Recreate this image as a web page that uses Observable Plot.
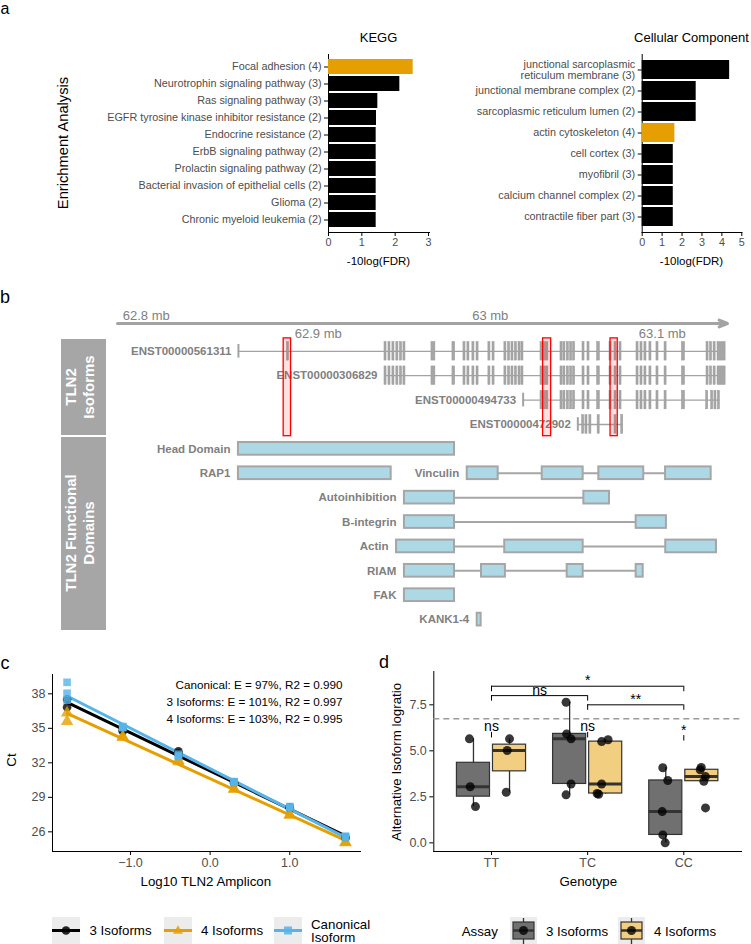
<!DOCTYPE html>
<html>
<head>
<meta charset="utf-8">
<script src="https://cdn.jsdelivr.net/npm/d3@7"></script>
<script src="https://cdn.jsdelivr.net/npm/@observablehq/plot@0.6"></script>
<style>
html,body{margin:0;padding:0;background:#fff;}
#fig{position:relative;width:751px;height:944px;overflow:hidden;background:#fff;font-family:"Liberation Sans",Arial,Helvetica,sans-serif;}
.abs{position:absolute;}
.lbl{position:absolute;white-space:pre;line-height:1;color:#000;}
#fig svg g[aria-label$="tick label"]{fill:#4d4d4d;}
</style>
</head>
<body>
<div id="fig"></div>
<script>
// ================= DATA =================
// Panel a – enrichment
const keggTerms = ["Focal adhesion (4)", "Neurotrophin signaling pathway (3)", "Ras signaling pathway (3)",
  "EGFR tyrosine kinase inhibitor resistance (2)", "Endocrine resistance (2)", "ErbB signaling pathway (2)",
  "Prolactin signaling pathway (2)", "Bacterial invasion of epithelial cells (2)", "Glioma (2)", "Chronic myeloid leukemia (2)"];
const keggFDR = [2.54, 2.14, 1.48, 1.44, 1.43, 1.43, 1.43, 1.43, 1.43, 1.43];
const ccTerms = ["junctional sarcoplasmic\nreticulum membrane (3)", "junctional membrane complex (2)",
  "sarcoplasmic reticulum lumen (2)", "actin cytoskeleton (4)", "cell cortex (3)", "myofibril (3)",
  "calcium channel complex (2)", "contractile fiber part (3)"];
const ccFDR = [4.39, 2.71, 2.71, 1.64, 1.56, 1.56, 1.56, 1.56];
const highlightTerms = ["Focal adhesion (4)", "actin cytoskeleton (4)"];
const keggTicks = [0, 1, 2, 3];
const ccTicks = [0, 1, 2, 3, 4, 5];

// Panel b – TLN2 locus (positions in kb on chr15)
const genomeTicks = [62800, 62900, 63000, 63100];
const genomeTickLabels = ["62.8 mb", "62.9 mb", "63 mb", "63.1 mb"];
const genomeAxisRange = [62783.3, 63137.9];
const transcriptNames = ["ENST00000561311", "ENST00000306829", "ENST00000494733", "ENST00000472902"];
const transcriptStart = [62853.6, 62938.5, 63019.1, 63050.9];
const transcriptEnd = [63136.8, 63136.8, 63133.5, 63077.3];
const exons561311 = [[62881.8,62883.0],
  [62938.5,62939.7],[62940.8,62942.0],[62943.1,62944.3],[62945.4,62946.6],[62947.5,62948.7],[62949.5,62950.7],
  [62965.8,62968.1],[62978.0,62979.6],
  [62984.4,62985.6],[62986.7,62987.9],[62989.6,62990.8],[62992.0,62993.2],
  [62998.9,63000.1],[63001.3,63002.5],
  [63008.2,63009.4],[63010.3,63011.5],[63012.3,63013.5],[63014.3,63015.5],[63016.4,63017.6],[63018.1,63019.3],
  [63029.2,63033.8],
  [63040.8,63042.0],[63042.5,63043.7],[63044.5,63045.7],[63046.4,63047.6],[63048.1,63049.3],
  [63053.6,63054.8],[63056.5,63057.7],[63062.1,63063.7],[63069.3,63070.5],[63072.2,63073.4],[63075.1,63076.3],
  [63085.0,63086.2],[63087.3,63088.5],[63089.6,63090.8],[63092.5,63093.7],[63096.6,63097.8],[63101.3,63102.5],
  [63111.4,63113.2],[63125.7,63126.9],[63127.7,63128.9],[63129.8,63131.0],[63132.1,63136.8]];
const exons306829 = [
  [62938.5,62939.7],[62940.8,62942.0],[62943.1,62944.3],[62945.4,62946.6],[62947.5,62948.7],[62949.5,62950.7],
  [62965.8,62968.1],[62978.0,62979.6],
  [62984.4,62985.6],[62986.7,62987.9],[62989.6,62990.8],[62992.0,62993.2],
  [62998.9,63000.1],[63001.3,63002.5],
  [63008.2,63009.4],[63010.3,63011.5],[63012.3,63013.5],[63014.3,63015.5],[63016.4,63017.6],[63018.1,63019.3],
  [63029.2,63033.8],
  [63040.8,63042.0],[63042.5,63043.7],[63044.5,63045.7],[63046.4,63047.6],[63048.1,63049.3],
  [63053.6,63054.8],[63056.5,63057.7],[63062.1,63063.7],[63069.3,63070.5],[63072.2,63073.4],[63075.1,63076.3],
  [63085.0,63086.2],[63087.3,63088.5],[63089.6,63090.8],[63092.5,63093.7],[63096.6,63097.8],[63101.3,63102.5],
  [63111.4,63113.2],[63125.7,63126.9],[63127.7,63128.9],[63129.8,63131.0],[63132.1,63136.8]];
const exons494733 = [[63029.2,63033.8],
  [63040.8,63042.0],[63042.5,63043.7],[63044.5,63045.7],[63046.4,63047.6],[63048.1,63049.3],
  [63053.6,63054.8],[63056.5,63057.7],[63062.1,63063.7],[63069.3,63070.5],[63072.2,63073.4],[63075.1,63076.3],
  [63085.0,63086.2],[63087.3,63088.5],[63089.6,63090.8],[63092.5,63093.7],[63096.6,63097.8],[63101.3,63102.5],
  [63111.4,63113.2],[63125.5,63126.7],[63128.4,63129.6],[63130.3,63131.5],[63132.3,63133.5]];
const exons472902 = [[63053.4,63054.6],[63055.3,63056.5],[63057.6,63058.8],[63062.4,63063.6],[63072.2,63073.4],[63076.1,63077.3]];
const highlightRegions = [[62879.9, 62884.2], [63030.7, 63035.4], [63069.9, 63074.1]];
const domainNames = ["Head Domain", "RAP1", "Vinculin", "Autoinhibition", "B-integrin", "Actin", "RIAM", "FAK", "KANK1-4"];
const domainSegments = [
  [[62853.6, 62979.2]],
  [[62853.6, 62942.4]],
  [[62986.6, 63004.6], [63030.2, 63054.0], [63063.1, 63089.2], [63101.9, 63128.4]],
  [[62950.1, 62979.2], [63054.4, 63069.3]],
  [[62950.1, 62979.2], [63084.8, 63102.4]],
  [[62945.5, 62979.2], [63008.4, 63054.0], [63102.0, 63131.5]],
  [[62950.1, 62979.2], [62994.9, 63008.8], [63044.7, 63054.0], [63084.8, 63088.9]],
  [[62950.1, 62979.2]],
  [[62992.4, 62994.7]]];
const domainStacking = [["Head Domain"], ["RAP1", "Vinculin"], ["Autoinhibition"], ["B-integrin"], ["Actin"], ["RIAM"], ["FAK"], ["KANK1-4"]];

// Panel c – qPCR standard curves
const log10Amplicon = [-1.796, -1.097, -0.398, 0.301, 1.0, 1.699];
const ct3Isoforms = [[37.5, 36.83], [34.87, 34.75], [33.0, 32.8], [30.29, 30.22], [28.14, 28.04], [25.53, 25.47]];
const ct4Isoforms = [[36.35, 35.6], [34.3, 34.2], [32.2, 32.1], [29.74, 29.7], [27.5, 27.45], [25.1, 25.05]];
const ctCanonical = [[39.0, 38.05, 37.45], [35.16, 35.05, 35.1], [32.75, 32.55, 32.6], [30.37, 30.3, 30.33], [28.2, 28.1, 28.15], [25.6, 25.55, 25.6]];
const ctTicks = [26, 29, 32, 35, 38];
const ampTicks = [-1, 0, 1];
const fitNames = ["Canonical", "3 Isoforms", "4 Isoforms"];
const fitEfficiency = [97, 101, 103];
const fitR2 = [0.990, 0.997, 0.995];

// Panel d – alternative isoform log ratio by genotype
const genotypes = ["TT", "TC", "CC"];
const assays = ["3 Isoforms", "4 Isoforms"];
const ttIso3 = [5.65, 3.05, 1.97];
const ttIso4 = [5.65, 5.02, 2.75];
const tcIso3 = [7.64, 5.92, 5.65, 3.2, 2.61];
const tcIso4 = [5.5, 5.6, 3.2, 2.68, 2.64];
const ccIso3 = [4.08, 3.39, 1.70, 0.43, 0.0];
const ccIso4 = [4.1, 3.97, 3.6, 3.35, 1.9];
const ratioTicks = [0, 2.5, 5, 7.5];
const thresholdRatio = 6.74;
const betweenTests = [
  {g1: "TT", g2: "TC", y: 8.0, label: "ns"},
  {g1: "TT", g2: "CC", y: 8.51, label: "*"},
  {g1: "TC", g2: "CC", y: 7.5, label: "**"}];
const withinTests = [
  {g: "TT", y: 6.0, label: "ns"},
  {g: "TC", y: 6.0, label: "ns"},
  {g: "CC", y: 5.83, label: "*"}];

// ================= RENDER =================
const FONT = '"Liberation Sans", Arial, Helvetica, sans-serif';
const ORANGE = "#E69F00", SKY = "#56B4E9";
const fig = document.getElementById("fig");

function place(el, left, top) {
  const d = document.createElement("div");
  d.className = "abs";
  d.style.left = left + "px"; d.style.top = top + "px";
  d.appendChild(el); fig.appendChild(d); return d;
}
function label(text, x, y, o = {}) {
  const d = document.createElement("div");
  d.className = "lbl";
  d.textContent = text;
  d.style.left = x + "px"; d.style.top = y + "px";
  d.style.fontSize = (o.size || 13.3) + "px";
  if (o.weight) d.style.fontWeight = o.weight;
  if (o.color) d.style.color = o.color;
  if (o.lh) d.style.lineHeight = o.lh;
  if (o.align) d.style.textAlign = o.align;
  const tx = o.anchor === "start" ? "0" : o.anchor === "end" ? "-100%" : "-50%";
  d.style.transform = `translate(${tx},-50%)` + (o.rotate ? ` rotate(${o.rotate}deg)` : "");
  fig.appendChild(d);
  return d;
}
function box(x, y, w, h, bg) {
  const d = document.createElement("div");
  d.className = "abs";
  Object.assign(d.style, {left: x + "px", top: y + "px", width: w + "px", height: h + "px", background: bg});
  fig.appendChild(d); return d;
}
const baseStyle = (size) => ({fontFamily: FONT, fontSize: size + "px", color: "black", background: "transparent", overflow: "visible"});

// ---------- Panel a ----------
function enrichPlot(terms, vals, ticks, xmax, width, mLeft, mRight) {
  const rows = terms.map((t, i) => ({term: t, v: vals[i]}));
  return Plot.plot({
    width, height: 232, marginTop: 24, marginBottom: 30, marginLeft: mLeft, marginRight: mRight,
    style: baseStyle(10.8),
    x: {domain: [0, xmax], ticks, tickSize: 4, tickPadding: 2, line: true, label: null, tickFormat: d3.format("d")},
    y: {domain: terms, padding: 0.1, tickSize: 4, tickPadding: 3, line: true, label: null},
    color: {type: "identity"},
    marks: [Plot.barX(rows, {x: "v", y: "term", fill: d => highlightTerms.includes(d.term) ? ORANGE : "black"})]
  });
}
place(enrichPlot(keggTerms, keggFDR, keggTicks, 3.03, 440, 328, 11), 0, 30);
place(enrichPlot(ccTerms, ccFDR, ccTicks, 5, 391, 281.7, 9.7), 360, 30);
label("KEGG", 378.5, 37, {size: 13});
label("Cellular Component", 691.5, 37, {size: 13});
label("-10log(FDR)", 378.5, 262, {size: 11.5});
label("-10log(FDR)", 691.5, 262, {size: 11.5});
label("Enrichment Analysis", 63, 143, {size: 14.7, rotate: -90});

// ---------- Panel b ----------
const transcriptExons = [exons561311, exons306829, exons494733, exons472902];
const transcripts = transcriptNames.map((n, i) => ({name: n, row: i, start: transcriptStart[i], end: transcriptEnd[i], exons: transcriptExons[i]}));
const exonRects = transcripts.flatMap(t => t.exons.map(([a, b]) => ({row: t.row, a, b})));
const capTranscripts = transcripts.filter(t => t.start < t.exons[0][0] - 1);
const domainRowOf = {};
domainStacking.forEach((names, i) => names.forEach(n => domainRowOf[n] = 4 + i));
const domains = domainNames.map((n, i) => ({name: n, row: domainRowOf[n], segs: domainSegments[i],
  start: domainSegments[i][0][0], end: domainSegments[i][domainSegments[i].length - 1][1]}));
const domainRects = domains.flatMap(d => d.segs.map(([a, b]) => ({row: d.row, a, b})));
const AXIS_ROW = -1.14;
const gTicks = genomeTicks.map((t, i) => ({t, label: genomeTickLabels[i], i}));
const geneTrack = Plot.plot({
  width: 751, height: 345, marginLeft: 117, marginRight: 24, marginTop: 0, marginBottom: 0,
  style: baseStyle(11.5),
  x: {domain: genomeAxisRange, axis: null},
  y: {domain: [AXIS_ROW, 11], range: [28, 324.1], axis: null},
  marks: [
    // genome axis
    Plot.arrow([genomeAxisRange], {x1: d => d[0], x2: d => d[1], y1: AXIS_ROW, y2: AXIS_ROW,
      stroke: "#a3a3a3", strokeWidth: 3, headLength: 4.5, headAngle: 45}),
    Plot.text(gTicks.filter(d => d.i % 2 === 0), {x: "t", y: AXIS_ROW, text: "label", dy: -7.5, fill: "#808080", fontSize: 13}),
    Plot.text(gTicks.filter(d => d.i % 2 === 1), {x: "t", y: AXIS_ROW, text: "label", dy: 10, fill: "#808080", fontSize: 13}),
    // transcripts
    Plot.ruleY(transcripts, {y: "row", x1: "start", x2: "end", stroke: "#a3a3a3", strokeWidth: 1.3}),
    Plot.ruleX(capTranscripts, {x: "start", y1: d => d.row - 0.28, y2: d => d.row + 0.28, stroke: "#a3a3a3", strokeWidth: 2}),
    Plot.rect(exonRects, {x1: "a", x2: "b", y1: d => d.row - 0.38, y2: d => d.row + 0.38, fill: "#a6a6a6", stroke: "#9a9a9a", strokeWidth: 0.5}),
    Plot.text(transcripts, {x: d => Math.min(d.start, d.exons[0][0]), y: "row", text: "name", textAnchor: "end", dx: -7,
      fontWeight: "bold", fill: "#808080", fontSize: 11.5}),
    // highlighted exons
    Plot.rect(highlightRegions, {x1: d => d[0], x2: d => d[1], y1: -0.53, y2: 3.48, fill: "#ff0000", fillOpacity: 0.12, stroke: "#ff0000", strokeWidth: 1.3}),
    // functional domains
    Plot.ruleY(domains.filter(d => d.segs.length > 1), {y: "row", x1: "start", x2: "end", stroke: "#a6a6a6", strokeWidth: 2}),
    Plot.rect(domainRects, {x1: "a", x2: "b", y1: d => d.row - 0.26, y2: d => d.row + 0.26, fill: "#add8e6", stroke: "#a6a6a6", strokeWidth: 2}),
    Plot.text(domains, {x: "start", y: "row", text: "name", textAnchor: "end", dx: -8, fontWeight: "bold", fill: "#808080", fontSize: 11.5})
  ]
});
place(geneTrack, 0, 295);
box(60.7, 339.3, 45.3, 95.7, "#a6a6a6");
box(60.7, 436.7, 45.3, 193.3, "#a6a6a6");
label("TLN2\nIsoforms", 79.6, 386.7, {size: 15, weight: "bold", color: "#fff", rotate: -90, lh: 1.22, align: "center"});
label("TLN2 Functional\nDomains", 79.6, 533.3, {size: 15, weight: "bold", color: "#fff", rotate: -90, lh: 1.22, align: "center"});

// ---------- Panel c ----------
const series = [
  {name: "3 Isoforms", ct: ct3Isoforms, color: "black", symbol: "circle", r: 4.3},
  {name: "4 Isoforms", ct: ct4Isoforms, color: ORANGE, symbol: "triangle", r: 4.6},
  {name: "Canonical Isoform", ct: ctCanonical, color: SKY, symbol: "square", r: 4.3}];
const ctRows = s => log10Amplicon.flatMap((x, i) => s.ct[i].map(y => ({x, y})));
const annotation = fitNames.map((n, i) => `${n}: E = ${fitEfficiency[i]}%, R2 = ${fitR2[i].toFixed(3)}`).join("\n");
const curvePlot = Plot.plot({
  width: 375, height: 230, marginLeft: 52, marginRight: 15, marginTop: 14, marginBottom: 39,
  style: baseStyle(12.5),
  x: {domain: [-1.979, 1.888], ticks: ampTicks, tickSize: 4, tickPadding: 3, line: true, label: null},
  y: {domain: [24.29, 39.68], ticks: ctTicks, tickSize: 4, tickPadding: 3, line: true, label: null},
  marks: [
    ...series.map(s => Plot.linearRegressionY(ctRows(s), {x: "x", y: "y", stroke: s.color, strokeWidth: 3, ci: 0})),
    ...series.map(s => Plot.dot(ctRows(s), {x: "x", y: "y", symbol: s.symbol, fill: s.color, fillOpacity: 0.8, r: s.r, stroke: "none"})),
    Plot.text([annotation], {text: d => d, frameAnchor: "top-right", textAnchor: "end", lineAnchor: "top", dx: -18, dy: 3,
      lineHeight: 1.43, fontSize: 11.7, fill: "black"})
  ]
});
place(curvePlot, 0, 660);
label("Ct", 12, 760, {size: 13.3, rotate: -90});
label("Log10 TLN2 Amplicon", 205.8, 881.7, {size: 13.3});

// ---------- Panel d ----------
const DODGE = 0.1875, HALF = 0.172, TIP = 0.3;
const groupValues = {TT: [ttIso3, ttIso4], TC: [tcIso3, tcIso4], CC: [ccIso3, ccIso4]};
const jitter = {TT: [[-0.042, -0.034, 0.021], [0, -0.024, -0.034]],
                TC: [[-0.037, -0.031, 0.015, 0.015, -0.037], [-0.042, 0.025, -0.042, -0.089, -0.073]],
                CC: [[-0.031, 0.021, -0.037, -0.031, -0.006], [-0.006, -0.017, 0.038, 0.021, 0.038]]};
const boxStats = [], points = [];
genotypes.forEach((g, gi) => assays.forEach((a, ai) => {
  const vals = groupValues[g][ai];
  const s = d3.sort(vals);
  const q1 = d3.quantile(s, 0.25), med = d3.quantile(s, 0.5), q3 = d3.quantile(s, 0.75), iqr = q3 - q1;
  const lo = d3.min(s.filter(v => v >= q1 - 1.5 * iqr)), hi = d3.max(s.filter(v => v <= q3 + 1.5 * iqr));
  const cx = gi + 1 + (ai === 0 ? -DODGE : DODGE);
  boxStats.push({g, a, cx, q1, med, q3, lo, hi});
  vals.forEach((v, k) => points.push({x: cx + jitter[g][ai][k], y: v}));
}));
const gx = g => genotypes.indexOf(g) + 1;
const boxFill = {"3 Isoforms": "#707070", "4 Isoforms": "#F2CE80"};
const ratioPlot = Plot.plot({
  width: 376, height: 230, marginLeft: 58.3, marginRight: 10, marginTop: 11, marginBottom: 39,
  style: baseStyle(12.5),
  x: {domain: [0.4, 3.6], ticks: [1, 2, 3], tickFormat: d => genotypes[d - 1], tickSize: 4, tickPadding: 3, line: true, label: null},
  y: {domain: [-0.47, 9.31], ticks: ratioTicks, tickFormat: d3.format(".1f"), tickSize: 4, tickPadding: 3, line: true, label: null},
  color: {type: "identity"},
  marks: [
    Plot.ruleY([thresholdRatio], {stroke: "#9a9a9a", strokeWidth: 1.5, strokeDasharray: "6,4"}),
    Plot.ruleX(boxStats, {x: "cx", y1: "lo", y2: "hi", stroke: "#333", strokeWidth: 1.3}),
    Plot.rect(boxStats, {x1: d => d.cx - HALF, x2: d => d.cx + HALF, y1: "q1", y2: "q3", fill: d => boxFill[d.a], stroke: "#333", strokeWidth: 1.2}),
    Plot.ruleY(boxStats, {y: "med", x1: d => d.cx - HALF, x2: d => d.cx + HALF, stroke: "#333", strokeWidth: 3}),
    Plot.dot(points, {x: "x", y: "y", r: 4.5, fill: "black", fillOpacity: 0.78, stroke: "none"}),
    // between-genotype comparisons
    Plot.ruleY(betweenTests, {y: "y", x1: d => gx(d.g1), x2: d => gx(d.g2), stroke: "black", strokeWidth: 1}),
    Plot.ruleX(betweenTests, {x: d => gx(d.g1), y1: d => d.y - TIP, y2: "y", stroke: "black", strokeWidth: 1}),
    Plot.ruleX(betweenTests, {x: d => gx(d.g2), y1: d => d.y - TIP, y2: "y", stroke: "black", strokeWidth: 1}),
    Plot.text(betweenTests, {x: d => (gx(d.g1) + gx(d.g2)) / 2, y: "y", text: "label", lineAnchor: "bottom", dy: -1, fontSize: 14, fill: "black"}),
    // within-genotype comparisons
    Plot.ruleX(withinTests, {x: d => gx(d.g), y1: d => d.y - TIP, y2: "y", stroke: "black", strokeWidth: 1}),
    Plot.text(withinTests, {x: d => gx(d.g), y: "y", text: "label", lineAnchor: "bottom", dy: -1, fontSize: 14, fill: "black"})
  ]
});
place(ratioPlot, 375, 660);
label("Alternative Isoform logratio", 397.3, 761.7, {size: 13.3, rotate: -90});
label("Genotype", 588.3, 881.7, {size: 13.3});

// ---------- Legends ----------
function svgEl(w, h, inner) {
  const d = document.createElement("div");
  d.innerHTML = `<svg width="${w}" height="${h}" xmlns="http://www.w3.org/2000/svg">${inner}</svg>`;
  return d.firstChild;
}
const KEY_BG = "#ececec";
const curveKeys = [
  {x: 52, label: "3 Isoforms", color: "black", glyph: '<circle cx="14" cy="13.5" r="4.3" fill="black" fill-opacity="0.85"/>'},
  {x: 163.5, label: "4 Isoforms", color: ORANGE, glyph: `<path d="M14,8.3 L19,16.8 L9,16.8 Z" fill="${ORANGE}" fill-opacity="0.85"/>`},
  {x: 273.5, label: "Canonical\nIsoform", color: SKY, glyph: `<rect x="10" y="9.5" width="8" height="8" fill="${SKY}" fill-opacity="0.85"/>`}];
curveKeys.forEach(k => {
  place(svgEl(28, 28, `<rect width="28" height="28" fill="${KEY_BG}"/><line x1="0" x2="28" y1="13.5" y2="13.5" stroke="${k.color}" stroke-width="3"/>${k.glyph}`), k.x, 917);
  label(k.label, k.x + 37.5, 930.7, {anchor: "start", size: 13.3, lh: 1.0});
});
label("Assay", 461.7, 931.7, {anchor: "start", size: 13.3});
const assayKeys = [{x: 510, label: "3 Isoforms", fill: boxFill["3 Isoforms"]}, {x: 618, label: "4 Isoforms", fill: boxFill["4 Isoforms"]}];
assayKeys.forEach(k => {
  place(svgEl(27, 28, `<rect width="27" height="28" fill="${KEY_BG}"/><line x1="13.5" x2="13.5" y1="1" y2="28" stroke="#333" stroke-width="1.3"/>` +
    `<rect x="3" y="5" width="21" height="17" fill="${k.fill}" stroke="#333" stroke-width="1.2"/>` +
    `<line x1="3" x2="24" y1="13.5" y2="13.5" stroke="#333" stroke-width="2.5"/><circle cx="13.5" cy="13.5" r="4.5" fill="black" fill-opacity="0.78"/>`), k.x, 917);
  label(k.label, k.x + 36, 931.7, {anchor: "start", size: 13.3});
});

// ---------- panel letters ----------
label("a", 5, 9, {size: 16});
label("b", 5, 297, {size: 18});
label("c", 5, 662.5, {size: 18});
label("d", 384, 661.5, {size: 18});
</script>
</body>
</html>
